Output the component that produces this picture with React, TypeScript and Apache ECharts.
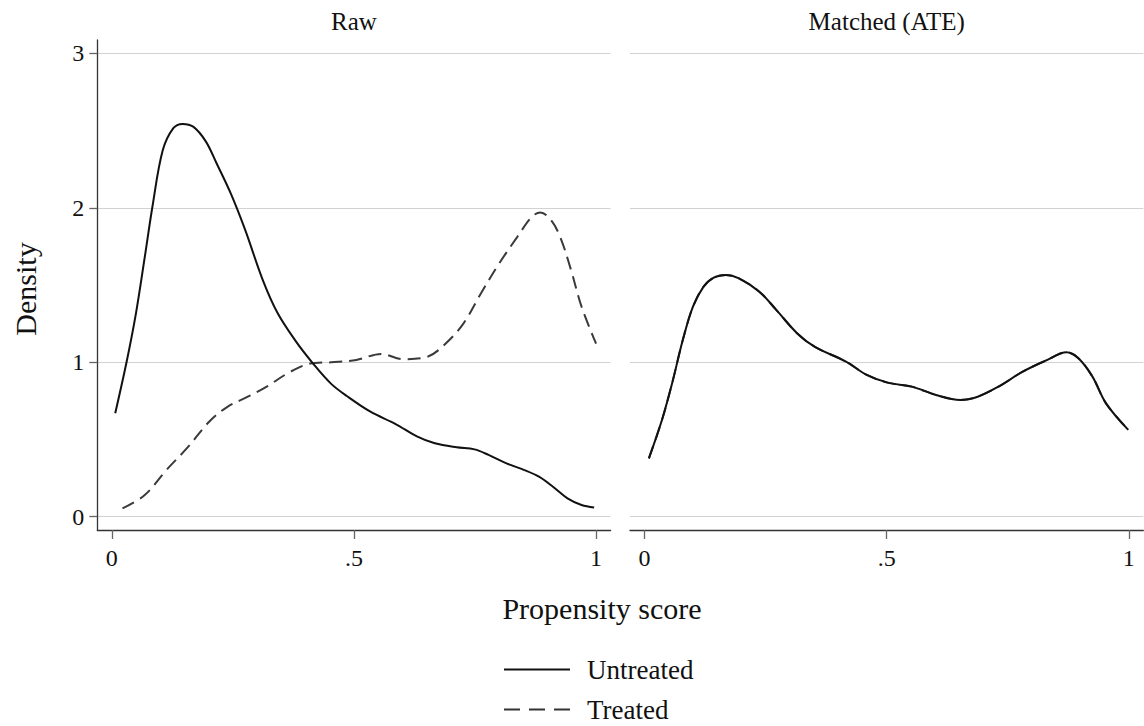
import React, { useEffect, useRef } from "react";
import * as echarts from "echarts";

// ---- Data ----
const panelTitles = ["Raw", "Matched (ATE)"];
const seriesNames = ["Untreated", "Treated"];
const xTickValues = [0, 0.5, 1];
const xTickLabels = ["0", ".5", "1"];
const yTickValues = [0, 1, 2, 3];
const yTickLabels = ["0", "1", "2", "3"];
const xAxisTitle = "Propensity score";
const yAxisTitle = "Density";

const rawUntreatedX = [0.007, 0.031, 0.05, 0.068, 0.084, 0.105, 0.127, 0.146, 0.168, 0.194, 0.216, 0.246, 0.275, 0.312, 0.342, 0.379, 0.416, 0.453, 0.486, 0.534, 0.586, 0.63, 0.667, 0.712, 0.749, 0.778, 0.815, 0.852, 0.882, 0.911, 0.941, 0.97, 0.996];
const rawUntreatedY = [0.67, 1.01, 1.32, 1.68, 2.01, 2.37, 2.515, 2.543, 2.525, 2.43, 2.29, 2.09, 1.86, 1.53, 1.32, 1.14, 0.99, 0.86, 0.78, 0.68, 0.6, 0.52, 0.475, 0.449, 0.436, 0.4, 0.345, 0.302, 0.259, 0.194, 0.119, 0.076, 0.06];

const rawTreatedX = [0.022, 0.068, 0.112, 0.157, 0.201, 0.238, 0.283, 0.319, 0.364, 0.408, 0.453, 0.505, 0.556, 0.601, 0.652, 0.689, 0.726, 0.763, 0.8, 0.837, 0.867, 0.885, 0.907, 0.926, 0.948, 0.97, 1.0];
const rawTreatedY = [0.054, 0.14, 0.3, 0.45, 0.615, 0.71, 0.78, 0.84, 0.93, 0.99, 1.0, 1.015, 1.054, 1.02, 1.036, 1.12, 1.25, 1.45, 1.64, 1.81, 1.94, 1.97, 1.92, 1.81, 1.6, 1.36, 1.12];

const matchedUntreatedX = [0.009, 0.036, 0.057, 0.079, 0.1, 0.122, 0.143, 0.168, 0.194, 0.237, 0.272, 0.315, 0.351, 0.416, 0.459, 0.502, 0.552, 0.602, 0.652, 0.688, 0.731, 0.781, 0.832, 0.871, 0.896, 0.925, 0.953, 0.999];
const matchedUntreatedY = [0.378, 0.626, 0.864, 1.144, 1.36, 1.49, 1.548, 1.565, 1.544, 1.457, 1.339, 1.188, 1.101, 1.004, 0.918, 0.868, 0.842, 0.788, 0.756, 0.777, 0.842, 0.939, 1.015, 1.065, 1.026, 0.907, 0.734, 0.562];

// After matching the treated curve lies underneath the untreated one
const matchedTreatedX = [0.009, 0.036, 0.057, 0.079, 0.1, 0.122, 0.143, 0.168, 0.194, 0.237, 0.272, 0.315, 0.351, 0.416, 0.459, 0.502, 0.552, 0.602, 0.652, 0.688, 0.731, 0.781, 0.832, 0.871, 0.896, 0.925, 0.953, 0.999];
const matchedTreatedY = [0.378, 0.626, 0.864, 1.144, 1.36, 1.49, 1.548, 1.565, 1.544, 1.457, 1.339, 1.188, 1.101, 1.004, 0.918, 0.868, 0.842, 0.788, 0.756, 0.777, 0.842, 0.939, 1.015, 1.065, 1.026, 0.907, 0.734, 0.562];

const FONT = "'Liberation Serif', 'Times New Roman', serif";

function zip(xs: number[], ys: number[]) {
  return xs.map((x, i) => [x, ys[i]]);
}

export default function App() {
  const ref = useRef<HTMLDivElement>(null);

  useEffect(() => {
    if (!ref.current) return;
    const chart = echarts.init(ref.current, null, { renderer: "svg" });

    const grids = [
      { left: 97.3, top: 40, width: 513.3, height: 490, outerBoundsMode: "none" },
      { left: 630, top: 40, width: 513.3, height: 490, outerBoundsMode: "none" },
    ];

    const xAxis = [0, 1].map((gi) => ({
      type: "value",
      gridIndex: gi,
      min: -0.03,
      max: 1.03,
      axisLine: { show: true, onZero: false, lineStyle: { color: "#333", width: 1.3 } },
      axisTick: { show: true, length: 9, customValues: xTickValues, lineStyle: { color: "#666", width: 1.3 } },
      axisLabel: {
        show: true,
        customValues: xTickValues,
        margin: 16,
        fontSize: 24,
        fontFamily: FONT,
        color: "#111",
        formatter: (v: number) => {
          const i = xTickValues.indexOf(v);
          return i >= 0 ? xTickLabels[i] : "";
        },
      },
      splitLine: { show: false },
    }));

    const yAxis = [0, 1].map((gi) => ({
      type: "value",
      gridIndex: gi,
      min: -0.086,
      max: 3.086,
      axisLine: { show: gi === 0, onZero: false, lineStyle: { color: "#333", width: 1.3 } },
      axisTick: { show: gi === 0, length: 8, customValues: yTickValues, lineStyle: { color: "#666", width: 1.3 } },
      axisLabel: {
        show: gi === 0,
        customValues: yTickValues,
        margin: 13,
        fontSize: 24,
        fontFamily: FONT,
        color: "#111",
        formatter: (v: number) => {
          const i = yTickValues.indexOf(v);
          return i >= 0 ? yTickLabels[i] : "";
        },
      },
      splitLine: { show: true, lineStyle: { color: "#d2d2d2", width: 1.2 } },
    }));

    const solid = { color: "#111", width: 2, type: "solid" as const };
    const dashed = { color: "#3a3a3a", width: 2, type: [13, 7] as any };

    const mk = (name: string, gi: number, data: number[][], ls: any, z: number) => ({
      type: "line",
      name,
      xAxisIndex: gi,
      yAxisIndex: gi,
      data,
      symbol: "none",
      showSymbol: false,
      smooth: 0.35,
      lineStyle: ls,
      itemStyle: { color: ls.color },
      z,
      silent: true,
    });

    const series = [
      mk(seriesNames[1], 0, zip(rawTreatedX, rawTreatedY), dashed, 2),
      mk(seriesNames[0], 0, zip(rawUntreatedX, rawUntreatedY), solid, 3),
      mk(seriesNames[1], 1, zip(matchedTreatedX, matchedTreatedY), dashed, 2),
      mk(seriesNames[0], 1, zip(matchedUntreatedX, matchedUntreatedY), solid, 3),
    ];

    chart.setOption({
      animation: false,
      backgroundColor: "#fff",
      grid: grids,
      xAxis,
      yAxis,
      series,
      legend: {
        orient: "vertical",
        left: 503,
        top: 654.5,
        padding: 0,
        itemWidth: 66,
        itemHeight: 14,
        itemGap: 10,
        selectedMode: false,
        itemStyle: { opacity: 0 },
        textStyle: { fontFamily: FONT, fontSize: 27, color: "#111", lineHeight: 30, padding: [0, 0, 0, 12] },
        data: [
          { name: seriesNames[0], lineStyle: { type: "solid", color: "#111" } },
          { name: seriesNames[1], lineStyle: { type: [16, 9], color: "#333" } },
        ],
      },
      graphic: [
        {
          type: "text",
          x: 354,
          y: 21,
          style: { text: panelTitles[0], font: `25px ${FONT}`, fill: "#111", textAlign: "center", textVerticalAlign: "middle" },
        },
        {
          type: "text",
          x: 886.7,
          y: 21,
          style: { text: panelTitles[1], font: `25px ${FONT}`, fill: "#111", textAlign: "center", textVerticalAlign: "middle" },
        },
        {
          type: "text",
          x: 25,
          y: 289,
          rotation: Math.PI / 2,
          style: { text: yAxisTitle, font: `30px ${FONT}`, fill: "#111", textAlign: "center", textVerticalAlign: "middle" },
        },
        {
          type: "text",
          x: 602,
          y: 608,
          style: { text: xAxisTitle, font: `30px ${FONT}`, fill: "#111", textAlign: "center", textVerticalAlign: "middle" },
        },
      ],
    });

    return () => chart.dispose();
  }, []);

  return (
    <div
      ref={ref}
      style={{ position: "absolute", left: 0, top: 0, width: 1144, height: 726 }}
    />
  );
}
